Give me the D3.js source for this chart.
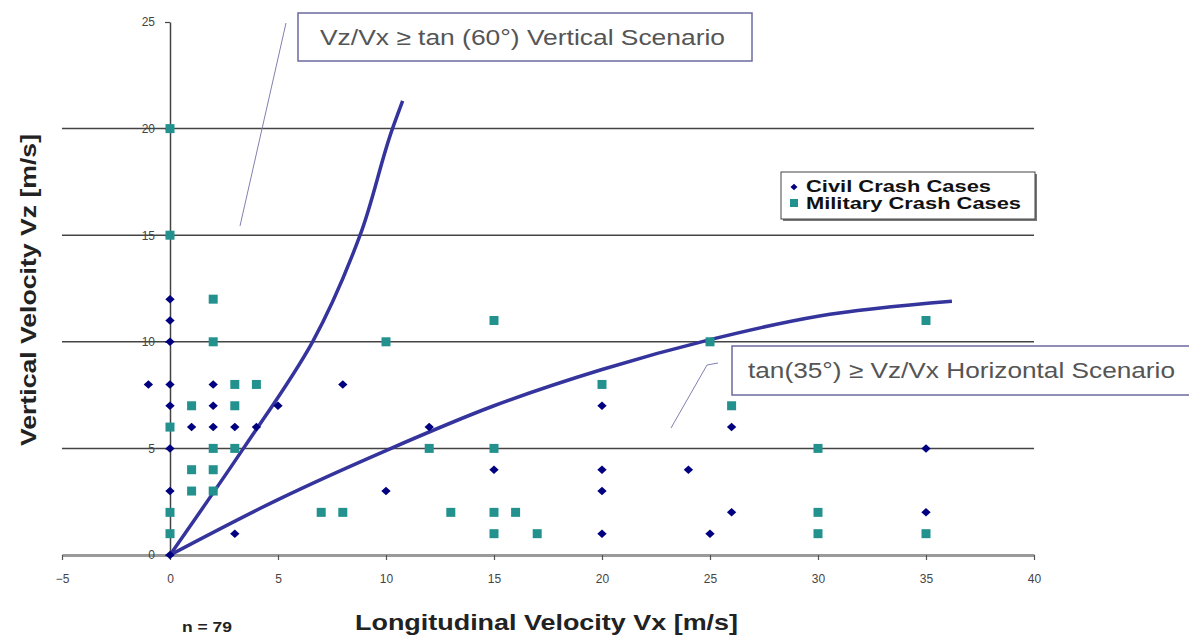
<!DOCTYPE html>
<html>
<head>
<meta charset="utf-8">
<script src="https://cdn.jsdelivr.net/npm/d3@7"></script>
<style>
  body { margin: 0; background: #fff; }
  svg { display: block; font-family: "Liberation Sans", Arial, sans-serif; }
</style>
</head>
<body>
<div id="chart"></div>
<script>
// civil crash cases [vx, vz]
var civilCases = [
  [0,12],[0,11],[0,10],[0,8],[0,7],[0,5],[0,3],[0,0],
  [-1,8],[1,6],[2,8],[2,7],[2,6],[3,6],[3,1],[4,6],[5,7],[8,8],
  [10,3],[12,6],[15,4],[20,7],[20,4],[20,3],[20,1],[24,4],[25,1],
  [26,6],[26,2],[35,5],[35,2]
];
// military crash cases [vx, vz]
var militaryCases = [
  [0,20],[0,15],[0,6],[0,2],[0,1],
  [1,7],[1,4],[1,3],[2,12],[2,10],[2,5],[2,4],[2,3],
  [3,8],[3,7],[3,5],[4,8],[7,2],[8,2],[10,10],[12,5],[13,2],
  [15,11],[15,5],[15,2],[15,1],[16,2],[17,1],[20,8],[25,10],[26,7],
  [30,5],[30,2],[30,1],[35,11],[35,1]
];
// boundary curves
var verticalCurve = [
  [0,0],[3.4,5],[6.6,10],[8.8,15],[10.3,20],[10.77,21.3]
];
var horizontalCurve = [
  [0,0],[5,2.6],[10,4.9],[15,7],[20,8.7],[25,10.1],[30,11.2],[36.2,11.9]
];
var xTicks = [-5,0,5,10,15,20,25,30,35,40];
var yTicks = [0,5,10,15,20,25];
var gridValues = [5,10,15,20];
var seriesNames = ["Civil Crash Cases","Military Crash Cases"];

var W = 1189, H = 635;
var svg = d3.select("#chart").append("svg").attr("width", W).attr("height", H);

var x = d3.scaleLinear().domain([-5,40]).range([62,1034]);
var y = d3.scaleLinear().domain([0,25]).range([555,22]);

// gridlines
svg.append("g").selectAll("line").data(gridValues).enter().append("line")
  .attr("x1", x(-5)).attr("x2", x(40))
  .attr("y1", function(d){ return y(d); }).attr("y2", function(d){ return y(d); })
  .attr("stroke", "#444").attr("stroke-width", 1.5);

// x axis
var xAxis = svg.append("g").attr("transform", "translate(0," + y(0) + ")")
  .call(d3.axisBottom(x).tickValues(xTicks).tickSize(5).tickPadding(14).tickSizeOuter(0));
xAxis.select(".domain").attr("stroke", "#9a9a9a").attr("stroke-width", 3);
xAxis.selectAll(".tick line").attr("stroke", "#555").attr("stroke-width", 1.2);
xAxis.selectAll(".tick text").attr("fill", "#444").style("font-size", "12px");

// y axis
var yAxis = svg.append("g").attr("transform", "translate(" + x(0) + ",0)")
  .call(d3.axisLeft(y).tickValues(yTicks).tickSize(5).tickPadding(10).tickSizeOuter(0));
yAxis.select(".domain").attr("stroke", "#444").attr("stroke-width", 1.5);
yAxis.selectAll(".tick line").attr("stroke", "#444").attr("stroke-width", 1.2);
yAxis.selectAll(".tick text").attr("fill", "#444").style("font-size", "12px");

// boundary curves
var vLine = d3.line()
  .x(function(d){ return x(d[0]); })
  .y(function(d){ return y(d[1]); })
  .curve(d3.curveMonotoneY);
var hLine = d3.line()
  .x(function(d){ return x(d[0]); })
  .y(function(d){ return y(d[1]); })
  .curve(d3.curveMonotoneX);
svg.append("path").attr("d", vLine(verticalCurve))
  .attr("fill", "none").attr("stroke", "#34349c").attr("stroke-width", 3.5);
svg.append("path").attr("d", hLine(horizontalCurve))
  .attr("fill", "none").attr("stroke", "#34349c").attr("stroke-width", 3.5);

// points
var civilColor = "#000080", militaryColor = "#23928f";
var squatDiamond = {
  draw: function(ctx, size) {
    var r = Math.sqrt(size) / 2;
    ctx.moveTo(0, -r); ctx.lineTo(r * 1.1, 0); ctx.lineTo(0, r); ctx.lineTo(-r * 1.1, 0); ctx.closePath();
  }
};
var diamond = d3.symbol().type(squatDiamond).size(72);
svg.append("g").selectAll("path").data(civilCases).enter().append("path")
  .attr("d", diamond)
  .attr("transform", function(d){ return "translate(" + x(d[0]) + "," + y(d[1]) + ")"; })
  .attr("fill", civilColor);
svg.append("g").selectAll("rect").data(militaryCases).enter().append("rect")
  .attr("x", function(d){ return x(d[0]) - 4.5; })
  .attr("y", function(d){ return y(d[1]) - 4.5; })
  .attr("width", 9).attr("height", 9)
  .attr("fill", militaryColor);

// callout: vertical scenario
svg.append("line").attr("x1", 240).attr("y1", 226).attr("x2", 286).attr("y2", 23)
  .attr("stroke", "#8080b0").attr("stroke-width", 1);
svg.append("rect").attr("x", 298).attr("y", 13).attr("width", 454).attr("height", 48)
  .attr("fill", "#fff").attr("stroke", "#6a6aa0").attr("stroke-width", 1.5);
svg.append("text").attr("x", 320).attr("y", 45)
  .attr("textLength", 405).attr("lengthAdjust", "spacingAndGlyphs")
  .attr("fill", "#555").style("font-size", "22px")
  .text("Vz/Vx \u2265 tan (60\u00b0) Vertical Scenario");

// callout: horizontal scenario
svg.append("polyline").attr("points", "671,428 707,365 718,363")
  .attr("fill", "none").attr("stroke", "#8080b0").attr("stroke-width", 1);
svg.append("rect").attr("x", 732).attr("y", 346).attr("width", 470).attr("height", 49)
  .attr("fill", "#fff").attr("stroke", "#6a6aa0").attr("stroke-width", 1.5);
svg.append("text").attr("x", 748).attr("y", 378)
  .attr("textLength", 427).attr("lengthAdjust", "spacingAndGlyphs")
  .attr("fill", "#555").style("font-size", "22px")
  .text("tan(35\u00b0) \u2265 Vz/Vx Horizontal Scenario");

// legend
var lg = svg.append("g");
lg.append("rect").attr("x", 783).attr("y", 174).attr("width", 254).attr("height", 47).attr("fill", "#777");
lg.append("rect").attr("x", 781).attr("y", 172).attr("width", 254).attr("height", 47)
  .attr("fill", "#fff").attr("stroke", "#444").attr("stroke-width", 1);
lg.append("path").attr("d", d3.symbol().type(squatDiamond).size(40))
  .attr("transform", "translate(794,187)").attr("fill", civilColor);
lg.append("rect").attr("x", 790).attr("y", 199).attr("width", 8).attr("height", 8).attr("fill", militaryColor);
lg.selectAll("text").data(seriesNames).enter().append("text")
  .attr("x", 806).attr("y", function(d, i){ return 192 + i * 17; })
  .attr("textLength", function(d, i){ return i === 0 ? 185 : 215; })
  .attr("lengthAdjust", "spacingAndGlyphs")
  .style("font-size", "16px").style("font-weight", "bold").attr("fill", "#111")
  .text(function(d){ return d; });

// axis titles
svg.append("text").attr("transform", "translate(36,290) rotate(-90)")
  .attr("text-anchor", "middle").attr("textLength", 312).attr("lengthAdjust", "spacingAndGlyphs")
  .style("font-size", "22px").style("font-weight", "bold").attr("fill", "#222")
  .text("Vertical Velocity Vz [m/s]");
svg.append("text").attr("x", 355).attr("y", 630)
  .attr("textLength", 383).attr("lengthAdjust", "spacingAndGlyphs")
  .style("font-size", "22px").style("font-weight", "bold").attr("fill", "#222")
  .text("Longitudinal Velocity Vx [m/s]");
svg.append("text").attr("x", 182).attr("y", 632)
  .attr("textLength", 50).attr("lengthAdjust", "spacingAndGlyphs")
  .style("font-size", "15px").style("font-weight", "bold").attr("fill", "#222")
  .text("n = 79");
</script>
</body>
</html>
